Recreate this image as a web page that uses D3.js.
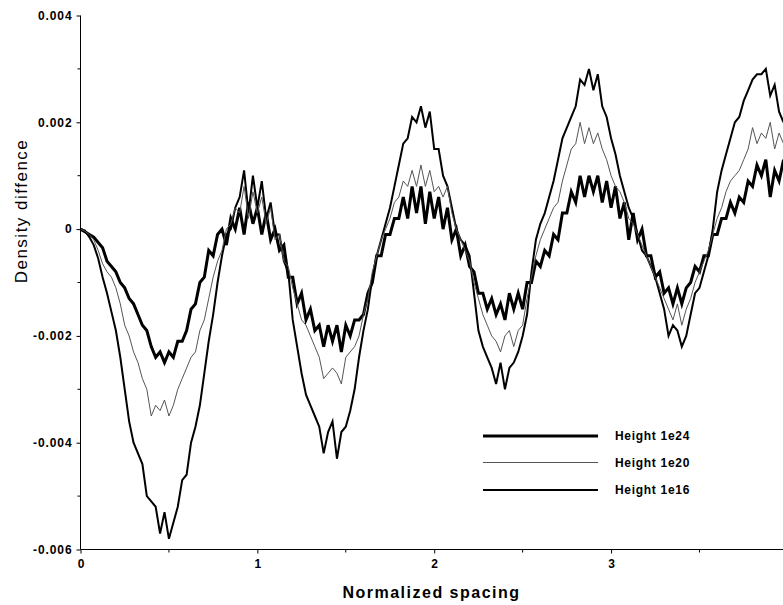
<!DOCTYPE html>
<html><head><meta charset="utf-8">
<script src="https://cdn.jsdelivr.net/npm/d3@7"></script>
<style>body{margin:0;background:#fff} svg{display:block}</style>
</head><body><svg id="c" width="783" height="605"></svg>
<script>
// ---- data ----
const xStep = 0.025;           // sample spacing along x (normalized spacing)
const yTicks = [-0.006, -0.004, -0.002, 0, 0.002, 0.004];
const yTickLabels = ["-0.006", "-0.004", "-0.002", "0", "0.002", "0.004"];
const yMinorTicks = [-0.005, -0.003, -0.001, 0.001, 0.003];
const xTicks = [0, 1, 2, 3];
const xTickLabels = ["0", "1", "2", "3"];
const xMinorTicks = [0.5, 1.5, 2.5, 3.5];
const seriesNames = ["Height 1e24", "Height 1e20", "Height 1e16"];
// values are in units of 1e-4
const h1e24 = [
  0, -0.5, -1, -1.5, -2.5, -3.5, -6, -7,
  -8, -10, -11, -13, -14, -16, -18, -19,
  -22, -24, -23, -25, -23, -24, -21, -21,
  -19, -15, -14, -10, -9, -4, -5, -1,
  0, -3, 2, 0, 4, -1, 5, 1,
  4, -1, 3, -2, 0, -4, -3, -9,
  -9, -14, -12, -17, -15, -19, -18, -22,
  -18, -21, -18, -23, -18, -20, -17, -17,
  -16, -12, -10, -5, -5, -1, -1, 2,
  2, 6, 2, 8, 3, 8, 1, 7,
  2, 6, 0, 4, -2, 0, -5, -3,
  -7, -8, -12, -12, -15, -13, -16, -14,
  -17, -12, -15, -12, -15, -10, -10, -6,
  -7, -4, -5, -1, -2, 3, 3, 7,
  5, 10, 6, 10, 7, 10, 5, 9,
  4, 8, 2, 5, -2, 3, -2, 0,
  -5, -5, -9, -8, -12, -11, -14, -11,
  -14, -11, -10, -7, -8, -5, -5, -1,
  -1, 2, 2, 5, 3, 6, 5, 9,
  8, 12, 10, 13, 6, 11, 9, 13
];
const h1e20 = [
  0, -0.4, -1, -2, -4, -6.5, -8, -9,
  -11, -14, -18, -20, -23, -25, -28, -30,
  -35, -33, -34, -32, -35, -33, -30, -28,
  -26, -24, -23, -19, -17, -13, -9, -6,
  -4, 0, 1, 4, 3, 8, 2, 7,
  3, 6, 1, 4, -2, -1, -6, -7,
  -11, -14, -17, -18, -20, -22, -24, -28,
  -27, -26, -27, -29, -24, -23, -22, -20,
  -16, -13, -8, -5, -2, 0, 2, 5,
  6, 9, 8, 11, 8, 12, 8, 11,
  7, 8, 6, 8, 3, 0, -2, -4,
  -6, -10, -13, -16, -18, -20, -21, -23,
  -20, -19, -22, -19, -18, -13, -9, -5,
  -2, 0, 2, 4, 5, 9, 12, 15,
  16, 20, 16, 19, 16, 18, 15, 13,
  10, 8, 7, 5, 2, 1, -1, -3,
  -5, -7, -9, -11, -13, -15, -17, -14,
  -18, -15, -13, -10, -8, -6, -4, -1,
  2, 4, 7, 9, 10, 11, 13, 15,
  19, 16, 18, 17, 20, 15, 18, 16
];
const h1e16 = [
  0, -0.3, -1.5, -3, -5.5, -9, -12, -15.5,
  -19, -24, -30, -36, -40, -42, -44, -50,
  -51, -52, -57, -53, -58, -55, -52, -47,
  -46, -40, -37, -33, -27, -21, -16, -10,
  -5, -1, 0, 4, 6, 11, 3, 10,
  4, 9, 2, 5, -1, -1, -6, -8,
  -17, -22, -27, -31, -33, -35, -37, -42,
  -38, -36, -43, -38, -37, -34, -30, -24,
  -19, -15, -9, -5, -2, 1, 4, 8,
  12, 16, 17, 21, 20, 23, 19, 22,
  15, 15, 10, 8, 4, 0, -2, -3,
  -5, -12, -19, -22, -24, -26, -29, -25,
  -30, -26, -25, -23, -20, -16, -8, -2,
  1, 3, 6, 9, 13, 17, 19, 21,
  23, 28, 27, 30, 26, 29, 23, 21,
  17, 14, 10, 7, 4, 2, -1, -4,
  -5, -7, -9, -12, -15, -20, -18, -19,
  -22, -20, -16, -12, -11, -8, -5, 0,
  7, 11, 14, 17, 20, 21, 24, 26,
  28, 29, 29, 30, 25, 27, 22, 20
];

// ---- chart ----
const svg = d3.select("#c");
const FONT = "'Liberation Sans', Arial, sans-serif";
const x = d3.scaleLinear().domain([0, 3.975]).range([80.5, 783.5]);
const y = d3.scaleLinear().domain([-0.006, 0.004]).range([549.5, 15.5]);

const toPts = arr => arr.map((v, i) => [i * xStep, v * 1e-4]);
const line = d3.line().x(d => x(d[0])).y(d => y(d[1]));

const styles = [
  {name: seriesNames[0], data: h1e24, color: "#000", width: 3},
  {name: seriesNames[1], data: h1e20, color: "#555", width: 1},
  {name: seriesNames[2], data: h1e16, color: "#000", width: 2}
];
// draw order: medium, thick, thin
[styles[2], styles[0], styles[1]].forEach(s => {
  svg.append("path").attr("d", line(toPts(s.data)))
    .attr("fill", "none").attr("stroke", s.color)
    .attr("stroke-width", s.width).attr("stroke-linejoin", "miter");
});

// axes
const yAxis = d3.axisLeft(y).tickValues(yTicks)
  .tickFormat((d, i) => yTickLabels[i]).tickSize(4).tickPadding(4);
const gy = svg.append("g").attr("transform", "translate(80.5,0)").call(yAxis);
gy.select(".domain").attr("d", `M0,${y(0.004)}V${y(-0.006)}`);
gy.selectAll("text").attr("font-family", FONT).attr("font-size", 12)
  .attr("font-weight", "bold").attr("letter-spacing", "0.9px").attr("fill", "#000");
gy.append("g").selectAll("line").data(yMinorTicks).join("line")
  .attr("x1", -3).attr("x2", 0).attr("y1", d => y(d)).attr("y2", d => y(d))
  .attr("stroke", "#000");

const xAxis = d3.axisBottom(x).tickValues(xTicks)
  .tickFormat((d, i) => xTickLabels[i]).tickSize(4).tickPadding(6);
const gx = svg.append("g").attr("transform", "translate(0,549.5)").call(xAxis);
gx.select(".domain").attr("d", `M80.5,0H783`);
gx.selectAll("text").attr("font-family", FONT).attr("font-size", 12)
  .attr("font-weight", "bold").attr("fill", "#000");
gx.append("g").selectAll("line").data(xMinorTicks).join("line")
  .attr("x1", d => x(d)).attr("x2", d => x(d)).attr("y1", 0).attr("y2", 3)
  .attr("stroke", "#000");

// titles
svg.append("text").attr("x", 431.5).attr("y", 598)
  .attr("text-anchor", "middle").attr("font-family", FONT)
  .attr("font-size", 16).attr("font-weight", "bold").attr("letter-spacing", "1.5px")
  .text("Normalized spacing");
svg.append("text").attr("transform", "translate(26.5,211) rotate(-90)")
  .attr("text-anchor", "middle").attr("font-family", FONT)
  .attr("font-size", 17).attr("letter-spacing", "1.5px")
  .text("Density  diffence");

// legend
const legY = [436, 462.5, 490];
const lg = svg.append("g");
styles.forEach((s, i) => {
  lg.append("line").attr("x1", 483).attr("x2", 598)
    .attr("y1", legY[i]).attr("y2", legY[i])
    .attr("stroke", s.color).attr("stroke-width", s.width);
  lg.append("text").attr("x", 615).attr("y", legY[i] + 4)
    .attr("font-family", FONT).attr("font-size", 12).attr("font-weight", "bold")
    .attr("letter-spacing", "0.7px").text(s.name);
});
</script></body></html>
